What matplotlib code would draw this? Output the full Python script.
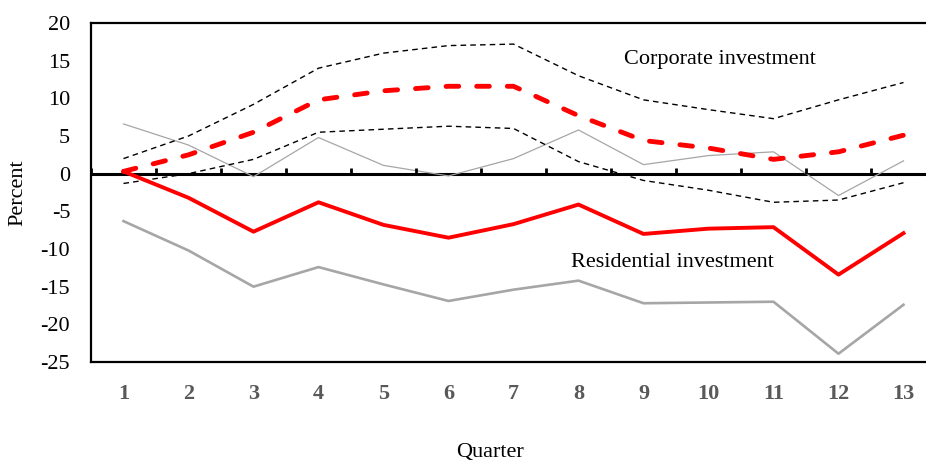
import numpy as np
import matplotlib
matplotlib.use("Agg")
import matplotlib.pyplot as plt

quarters = list(range(1, 14))

corp_median = [0.3, 2.5, 5.5, 9.8, 11.0, 11.6, 11.6, 7.7, 4.4, 3.4, 1.9, 2.9, 5.1]
corp_upper = [2.0, 5.0, 9.2, 14.0, 16.0, 17.0, 17.2, 13.0, 9.8, 8.5, 7.3, 9.8, 12.1]
corp_lower = [-1.3, 0.0, 1.9, 5.5, 5.9, 6.3, 6.0, 1.6, -0.9, -2.2, -3.8, -3.5, -1.2]
corp_other = [6.6, 3.8, -0.4, 4.8, 1.1, -0.3, 2.0, 5.8, 1.2, 2.4, 2.9, -2.9, 1.7]

resid_median = [0.3, -3.2, -7.7, -3.8, -6.8, -8.5, -6.7, -4.1, -8.0, -7.3, -7.1, -13.4, -7.9]
resid_lower = [-6.3, -10.2, -15.0, -12.4, -14.7, -16.9, -15.4, -14.2, -17.2, -17.1, -17.0, -23.9, -17.4]

yticks = [20, 15, 10, 5, 0, -5, -10, -15, -20, -25]

plt.rcParams["font.family"] = ["Liberation Serif", "DejaVu Serif"]

fig = plt.figure(figsize=(9.26, 4.61), dpi=100)
W, H = 926, 461
left, right, top, bottom = 91, 936, 23, 362
ax = fig.add_axes([left / W, 1 - bottom / H, (right - left) / W, (bottom - top) / H])

gray = "#A6A6A6"
ax.plot(quarters, corp_other, color=gray, lw=0.9)
ax.plot(quarters, resid_lower, color=gray, lw=1.9)
ax.plot(quarters, corp_upper, color="black", lw=1.0, dashes=(4, 3))
ax.plot(quarters, corp_lower, color="black", lw=1.0, dashes=(4, 3))
ax.plot(quarters, corp_median, color="#FF0000", lw=3.5, dashes=(2.6, 3.7),
        dash_capstyle="round")
ax.plot(quarters, resid_median, color="#FF0000", lw=2.8)

ax.axhline(0, color="black", lw=2.2, zorder=1)
for xb in np.arange(0.5, 14.0, 1.0):
    ax.plot([xb, xb], [0, 0.8], color="black", lw=2.0, solid_capstyle="butt",
            clip_on=False)

ax.set_xlim(0.5, 13.5)
ax.set_ylim(-25, 20)
ax.set_yticks(yticks)
ax.set_yticklabels([str(v) for v in yticks])
ax.set_xticks(quarters)
ax.set_xticklabels([str(q) for q in quarters], fontweight="bold", color="#595959")
ax.tick_params(axis="x", length=0, pad=16, labelsize=16)
ax.tick_params(axis="y", length=0, pad=15, labelsize=16)

for s in ("top", "bottom", "left"):
    ax.spines[s].set_linewidth(1.6)
    ax.spines[s].set_color("black")
ax.spines["right"].set_visible(False)

ax.text(10.18, 15.1, "Corporate investment", fontsize=16, ha="center", va="center")
ax.text(9.44, -11.75, "Residential investment", fontsize=16, ha="center", va="center")

fig.text(18 / W, 1 - 193 / H, "Percent", rotation=90, fontsize=16,
         ha="center", va="center")
fig.text(490 / W, 1 - 452 / H, "Quarter", fontsize=16, ha="center", va="center")

fig.savefig("out.png", dpi=100)
